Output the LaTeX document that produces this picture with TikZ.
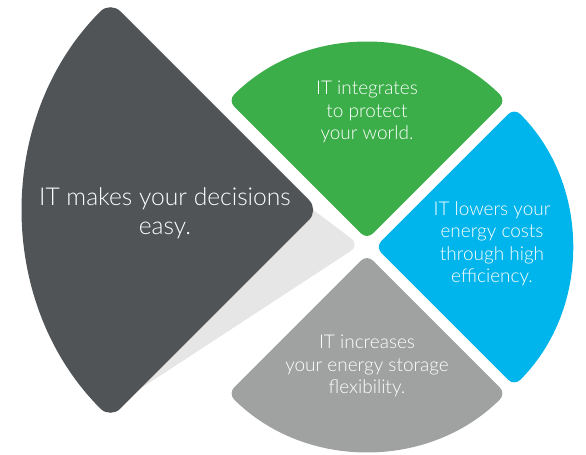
\documentclass[tikz,border=0pt]{standalone}
\usepackage{fontspec}
\setmainfont{Lato Light}
\usepackage{tikz}

\definecolor{itdark}{RGB}{80,84,87}
\definecolor{itgreen}{RGB}{59,174,73}
\definecolor{itblue}{RGB}{0,181,236}
\definecolor{itgray}{RGB}{160,162,161}
\definecolor{itshadow}{RGB}{230,230,230}

\begin{document}
\begin{tikzpicture}[
            sector/.style={rounded corners=6pt},
            txt/.style={text=white, align=center, font=\fontsize{13.5}{16}\selectfont}]
        \useasboundingbox (-9.175,-5.2) rectangle (5.475,6.175);

        \fill [itshadow, rounded corners=8pt] (-1.675,1.175) -- (-0.175,0.05) -- (-6.175,-3.875) -- (-5.425,-1.325) -- cycle;
        \fill [itdark, rounded corners=10pt] (-1.2,0.925) -- ++(135:7.375) arc[start angle=135, end angle=225, radius=7.375] -- cycle;

        \fill [itgreen, sector] (0,0.19) -- ++(45:4.91) arc[start angle=45, end angle=135, radius=4.91] -- cycle;
        \fill [itblue, sector] (0.21,0) -- ++(-45:4.91) arc[start angle=-45, end angle=45, radius=4.91] -- cycle;
        \fill [itgray, sector] (0,-0.19) -- ++(225:4.91) arc[start angle=225, end angle=315, radius=4.91] -- cycle;

        \node (1) [txt, font=\fontsize{17.5}{20.5}\selectfont] at (-5.05,0.84) {IT makes your decisions\\easy.};
        \node (2) [txt] at (0,3.375) {IT integrates\\to protect\\your world.};
        \node (3) [txt] at (3.125,0.075) {IT lowers your\\energy costs\\through high\\efficiency.};
        \node (4) [txt] at (0,-2.975) {IT increases\\your energy storage\\flexibility.};
    \end{tikzpicture}
\end{document}
